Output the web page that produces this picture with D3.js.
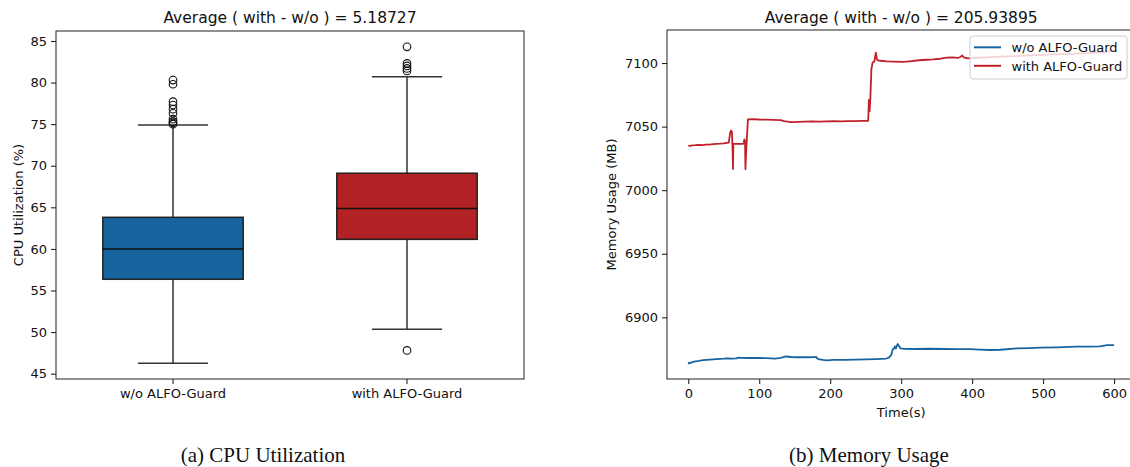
<!DOCTYPE html>
<html>
<head>
<meta charset="utf-8">
<script src="https://cdn.jsdelivr.net/npm/d3@7"></script>
<style>
  html, body { margin: 0; padding: 0; background: #fff; }
  svg { display: block; }
</style>
</head>
<body>
<svg id="chart" width="1130" height="467"></svg>
<script>
// ---------------- DATA ----------------
const categories = ["w/o ALFO-Guard", "with ALFO-Guard"];
// box stats: [lowerWhisker, Q1, median, Q3, upperWhisker]
const boxWithout = [46.25, 56.35, 60.0, 63.8, 74.9];
const boxWith = [50.35, 61.15, 64.85, 69.1, 80.7];
const outliersWithout = [75.0, 75.15, 75.3, 75.6, 76.3, 76.8, 77.3, 77.7, 79.8, 80.3];
const outliersWith = [47.8, 81.4, 81.7, 82.0, 82.3, 84.3];
const cpuTicks = [45, 50, 55, 60, 65, 70, 75, 80, 85];
const cpuTitle = "Average ( with - w/o ) = 5.18727";
const memTitle = "Average ( with - w/o ) = 205.93895";
const timeTicks = [0, 100, 200, 300, 400, 500, 600];
const memTicks = [6900, 6950, 7000, 7050, 7100];
const seriesNames = ["w/o ALFO-Guard", "with ALFO-Guard"];
// memory series [time(s), MB]
const memWithout = [[0,6864.6],[1,6863.8],[3,6864.2],[8,6865.2],[15,6865.8],[21,6866.4],[30,6866.8],[40,6867.2],[50,6867.5],[54,6867.7],[62,6867.6],[68,6867.7],[70,6868.3],[75,6868.1],[85,6868.0],[100,6868.0],[110,6867.9],[122,6867.6],[130,6868.2],[138,6869.2],[145,6868.8],[155,6868.6],[165,6868.6],[178,6868.7],[180,6868.8],[183,6867.1],[190,6866.5],[195,6866.2],[205,6866.5],[220,6866.6],[235,6866.7],[250,6866.9],[265,6867.2],[279,6867.6],[283,6868.5],[286,6870.4],[288,6874.8],[290,6875.5],[291,6877.2],[292.5,6875.6],[295,6879.0],[297,6877.5],[299,6875.6],[305,6875.2],[320,6875.1],[340,6875.3],[360,6875.1],[380,6875.0],[397,6875.0],[410,6874.6],[425,6874.3],[440,6874.5],[463,6875.6],[480,6875.8],[496,6876.1],[520,6876.4],[547,6876.9],[565,6877.0],[580,6877.1],[590,6878.2],[600,6878.2]];
const memWith = [[0,7035.0],[3,7034.8],[5,7035.3],[10,7035.4],[15,7035.6],[20,7035.5],[25,7035.9],[30,7035.8],[35,7036.2],[40,7036.4],[45,7036.6],[50,7036.9],[54,7037.3],[57,7037.5],[59,7045],[60,7046.8],[61.5,7046],[62.5,7030],[63,7016.6],[63.5,7036.5],[68,7036.5],[72,7036.5],[76,7036.5],[78,7036.6],[79,7040],[80,7038],[80.5,7016.6],[81.5,7030],[82.5,7040],[84,7055.7],[90,7055.9],[100,7055.6],[110,7055.5],[120,7055.3],[130,7055.1],[135,7054.3],[145,7053.6],[155,7053.8],[165,7054.0],[175,7054.2],[185,7054.0],[195,7054.2],[205,7054.3],[215,7054.1],[225,7054.4],[235,7054.3],[245,7054.5],[253.5,7054.6],[254.5,7071],[255.5,7062],[256.5,7072],[258,7095],[259.7,7100.5],[262,7101],[264.3,7108.1],[266,7102.5],[270,7101.8],[280,7101.3],[290,7101.2],[300,7101.0],[307,7101.1],[315,7101.6],[325,7102.2],[335,7102.6],[345,7102.9],[355,7103.4],[364,7104.2],[372,7104.4],[380,7104.0],[384,7105],[386,7106],[388,7104.5],[394,7103.7],[405,7104],[420,7104.5],[440,7105],[460,7105.5],[480,7106],[500,7106.5],[520,7107],[540,7107.3],[560,7107.8],[580,7108.5],[590,7109],[600,7110]];
const captions = ["(a)  CPU Utilization", "(b)  Memory Usage"];

// ---------------- STYLE ----------------
const boxColors = ["#17649f", "#b22124"];
const lineColors = ["#1764a0", "#c0222a"];
const SANS = "'DejaVu Sans', sans-serif";
const SERIF = "'Liberation Serif', 'Times New Roman', serif";
const svg = d3.select("#chart");

function styleAxis(g) {
  g.select(".domain").remove();
  g.selectAll("text").style("font-family", SANS).style("font-size", "13px").attr("fill", "#111");
  g.selectAll("line").attr("stroke", "#111");
}
function addText(parent, txt, size, family) {
  return parent.append("text").style("font-family", family || SANS).style("font-size", size + "px")
    .attr("fill", "#111").text(txt);
}

// ================= LEFT PANEL (box plot) =================
const L = {x0: 56, x1: 524, y0: 31, y1: 379};
const xBand = d3.scaleBand().domain(categories).range([L.x0, L.x1]).padding(0);
const yCpu = d3.scaleLinear().domain([44.36, 86.2]).range([L.y1, L.y0]);
const gL = svg.append("g");

const boxes = [boxWithout, boxWith];
const outs = [outliersWithout, outliersWith];
categories.forEach((c, i) => {
  const cx = xBand(c) + xBand.bandwidth() / 2;
  const bw = xBand.bandwidth() * 0.6;
  const cw = xBand.bandwidth() * 0.3;
  const s = boxes[i];
  const g = gL.append("g");
  g.append("line").attr("x1", cx).attr("x2", cx).attr("y1", yCpu(s[0])).attr("y2", yCpu(s[1]))
    .attr("stroke", "#333").attr("stroke-width", 1.5);
  g.append("line").attr("x1", cx).attr("x2", cx).attr("y1", yCpu(s[3])).attr("y2", yCpu(s[4]))
    .attr("stroke", "#333").attr("stroke-width", 1.5);
  [s[0], s[4]].forEach(v => {
    g.append("line").attr("x1", cx - cw / 2).attr("x2", cx + cw / 2).attr("y1", yCpu(v)).attr("y2", yCpu(v))
      .attr("stroke", "#333").attr("stroke-width", 1.5);
  });
  g.append("rect").attr("x", cx - bw / 2).attr("width", bw)
    .attr("y", yCpu(s[3])).attr("height", yCpu(s[1]) - yCpu(s[3]))
    .attr("fill", boxColors[i]).attr("stroke", "#222").attr("stroke-width", 1.5);
  g.append("line").attr("x1", cx - bw / 2).attr("x2", cx + bw / 2).attr("y1", yCpu(s[2])).attr("y2", yCpu(s[2]))
    .attr("stroke", "#111").attr("stroke-width", 1.5);
  g.selectAll("circle.o").data(outs[i]).enter().append("circle")
    .attr("cx", cx).attr("cy", d => yCpu(d)).attr("r", 3.8)
    .attr("fill", "none").attr("stroke", "#111").attr("stroke-width", 1.1);
});

const gAxLy = gL.append("g").attr("transform", `translate(${L.x0},0)`)
  .call(d3.axisLeft(yCpu).tickValues(cpuTicks).tickSize(5).tickPadding(4).tickFormat(d3.format("d")));
const gAxLx = gL.append("g").attr("transform", `translate(0,${L.y1})`)
  .call(d3.axisBottom(xBand).tickSize(5).tickPadding(5));
styleAxis(gAxLy); styleAxis(gAxLx);
gL.append("rect").attr("x", L.x0).attr("y", L.y0).attr("width", L.x1 - L.x0).attr("height", L.y1 - L.y0)
  .attr("fill", "none").attr("stroke", "#222").attr("stroke-width", 1);
addText(gL, cpuTitle, 15.5).attr("x", (L.x0 + L.x1) / 2).attr("y", 22.5).attr("text-anchor", "middle");
addText(gL, "CPU Utilization (%)", 13).attr("transform", `translate(22.5,${(L.y0 + L.y1) / 2}) rotate(-90)`)
  .attr("text-anchor", "middle");

// ================= RIGHT PANEL (lines) =================
const R = {x0: 667, x1: 1135.4, y0: 30, y1: 379};
const xT = d3.scaleLinear().domain([-30, 630]).range([R.x0, R.x1]);
const yM = d3.scaleLinear().domain([6851.5, 7126]).range([R.y1, R.y0]);
const gR = svg.append("g");
const line = d3.line().x(d => xT(d[0])).y(d => yM(d[1]));
[memWithout, memWith].forEach((ser, i) => {
  gR.append("path").datum(ser).attr("d", line).attr("fill", "none")
    .attr("stroke", lineColors[i]).attr("stroke-width", 1.8).attr("stroke-linejoin", "round");
});
const gAxRy = gR.append("g").attr("transform", `translate(${R.x0},0)`)
  .call(d3.axisLeft(yM).tickValues(memTicks).tickSize(5).tickPadding(4).tickFormat(d3.format("d")));
const gAxRx = gR.append("g").attr("transform", `translate(0,${R.y1})`)
  .call(d3.axisBottom(xT).tickValues(timeTicks).tickSize(5).tickPadding(5).tickFormat(d3.format("d")));
styleAxis(gAxRy); styleAxis(gAxRx);
gR.append("rect").attr("x", R.x0).attr("y", R.y0).attr("width", R.x1 - R.x0).attr("height", R.y1 - R.y0)
  .attr("fill", "none").attr("stroke", "#222").attr("stroke-width", 1);
addText(gR, memTitle, 15.5).attr("x", (R.x0 + R.x1) / 2).attr("y", 22.5).attr("text-anchor", "middle");
addText(gR, "Memory Usage (MB)", 13).attr("transform", `translate(616,${(R.y0 + R.y1) / 2}) rotate(-90)`)
  .attr("text-anchor", "middle");
addText(gR, "Time(s)", 13).attr("x", (R.x0 + R.x1) / 2).attr("y", 416.5).attr("text-anchor", "middle");

// legend
const lg = gR.append("g");
lg.append("rect").attr("x", 970).attr("y", 36).attr("width", 157).attr("height", 43).attr("rx", 3)
  .attr("fill", "#fff").attr("fill-opacity", 0.8).attr("stroke", "#ccc").attr("stroke-width", 1);
seriesNames.forEach((n, i) => {
  const yy = 47.3 + i * 18.5;
  lg.append("line").attr("x1", 974).attr("x2", 1001).attr("y1", yy).attr("y2", yy)
    .attr("stroke", lineColors[i]).attr("stroke-width", 2);
  addText(lg, n, 13).attr("x", 1011.5).attr("y", yy + 4.7);
});

// captions
addText(svg, captions[0], 21, SERIF).attr("x", 263).attr("y", 462).attr("text-anchor", "middle");
addText(svg, captions[1], 21, SERIF).attr("x", 869).attr("y", 462).attr("text-anchor", "middle");
</script>
</body>
</html>
